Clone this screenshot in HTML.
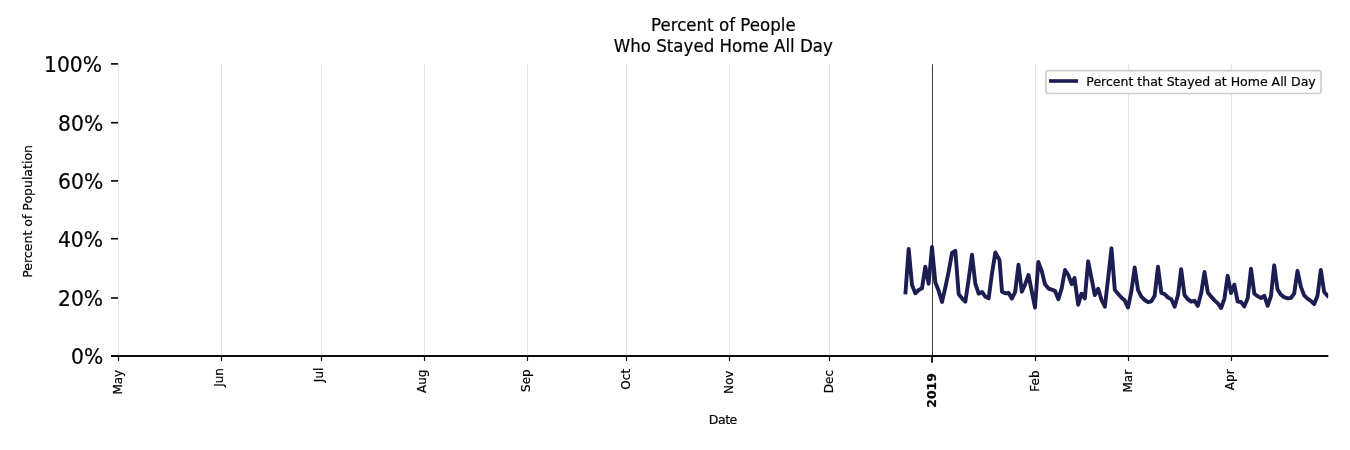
<!DOCTYPE html>
<html lang="en"><head><meta charset="utf-8"><title>Percent of People Who Stayed Home All Day</title>
<style>
html,body{margin:0;padding:0;background:#fff;}
body{width:1350px;height:450px;overflow:hidden;}
svg{display:block;font-family:"DejaVu Sans", "Liberation Sans", sans-serif;}
text{fill:#000;stroke:#000;stroke-width:0.2px;}
</style></head><body>
<svg width="1350" height="450" viewBox="0 0 1350 450">
<rect width="1350" height="450" fill="#fff"/>

<line x1="118.50" y1="64.2" x2="118.50" y2="356.0" stroke="#e3e3e3" stroke-width="1"/>
<line x1="221.50" y1="64.2" x2="221.50" y2="356.0" stroke="#e3e3e3" stroke-width="1"/>
<line x1="321.50" y1="64.2" x2="321.50" y2="356.0" stroke="#e3e3e3" stroke-width="1"/>
<line x1="424.50" y1="64.2" x2="424.50" y2="356.0" stroke="#e3e3e3" stroke-width="1"/>
<line x1="527.50" y1="64.2" x2="527.50" y2="356.0" stroke="#e3e3e3" stroke-width="1"/>
<line x1="626.50" y1="64.2" x2="626.50" y2="356.0" stroke="#e3e3e3" stroke-width="1"/>
<line x1="729.50" y1="64.2" x2="729.50" y2="356.0" stroke="#e3e3e3" stroke-width="1"/>
<line x1="829.50" y1="64.2" x2="829.50" y2="356.0" stroke="#e3e3e3" stroke-width="1"/>
<line x1="1035.50" y1="64.2" x2="1035.50" y2="356.0" stroke="#e3e3e3" stroke-width="1"/>
<line x1="1128.50" y1="64.2" x2="1128.50" y2="356.0" stroke="#e3e3e3" stroke-width="1"/>
<line x1="1231.50" y1="64.2" x2="1231.50" y2="356.0" stroke="#e3e3e3" stroke-width="1"/>
<line x1="932.50" y1="64.2" x2="932.50" y2="356.0" stroke="#3a3a3a" stroke-width="1"/>
<clipPath id="axclip"><rect x="118" y="64" width="1210.2" height="292"/></clipPath>
<path clip-path="url(#axclip)" d="M905.5 292.5 L908.67 248.83 L912.0 285.0 L915.33 293.33 L918.67 290.0 L922.0 288.33 L925.33 266.67 L928.67 283.67 L932.0 247.0 L935.33 282.5 L938.67 290.83 L942.0 302.0 L945.33 287.5 L948.67 271.67 L952.0 253.0 L955.33 250.83 L958.67 294.17 L962.0 298.33 L965.33 301.67 L968.67 279.17 L972.0 254.67 L975.33 283.67 L978.67 293.67 L982.0 292.0 L985.33 296.67 L988.67 298.33 L992.0 273.33 L995.33 252.5 L999.5 260.0 L1002.0 291.67 L1005.33 293.33 L1008.67 293.0 L1011.83 298.67 L1015.17 292.0 L1018.5 264.67 L1021.83 291.67 L1025.17 284.17 L1028.5 275.0 L1031.83 291.67 L1035.0 307.5 L1038.33 262.0 L1041.67 270.83 L1045.0 284.17 L1048.33 288.33 L1051.67 289.67 L1055.0 290.83 L1058.33 299.17 L1061.67 288.33 L1065.0 270.0 L1068.33 275.0 L1071.67 284.17 L1074.5 278.0 L1078.17 304.67 L1081.5 293.67 L1084.83 298.33 L1088.17 261.33 L1091.5 278.33 L1094.83 295.0 L1098.17 288.67 L1101.5 300.0 L1104.83 306.67 L1108.17 278.0 L1111.5 248.33 L1114.83 290.0 L1118.0 293.67 L1121.33 297.5 L1124.67 300.33 L1128.0 307.5 L1131.33 291.67 L1134.67 267.5 L1138.0 290.0 L1141.33 296.67 L1144.67 300.0 L1148.0 302.17 L1151.33 301.33 L1154.67 295.83 L1158.0 266.67 L1161.33 293.0 L1164.67 294.17 L1168.0 297.5 L1171.33 299.17 L1174.67 306.67 L1178.0 295.0 L1181.17 269.17 L1184.5 295.0 L1187.83 299.17 L1191.17 301.67 L1194.5 300.83 L1197.83 305.83 L1201.17 293.33 L1204.5 272.0 L1207.83 292.5 L1211.17 296.67 L1214.5 300.33 L1217.83 303.33 L1221.17 308.0 L1224.5 298.33 L1227.67 275.83 L1231.0 293.0 L1234.33 284.67 L1237.67 301.67 L1241.0 302.0 L1244.33 306.33 L1247.67 298.33 L1251.0 268.67 L1254.33 293.67 L1257.67 296.33 L1261.0 298.0 L1264.33 295.83 L1267.67 305.83 L1271.0 295.83 L1274.17 265.33 L1277.5 289.17 L1280.83 294.67 L1284.17 297.17 L1287.5 298.33 L1290.83 298.0 L1294.17 293.67 L1297.5 270.83 L1300.83 286.67 L1304.17 295.33 L1307.5 298.67 L1310.83 300.83 L1314.17 304.17 L1317.5 295.83 L1320.83 270.0 L1324.17 292.0 L1327.5 295.83" fill="none" stroke="#1c1d51" stroke-width="3.9" stroke-linejoin="round" stroke-linecap="square"/>
<line x1="111" y1="356.0" x2="1328.3" y2="356.0" stroke="#0c0c0c" stroke-width="2"/>
<line x1="118.50" y1="356.0" x2="118.50" y2="360.9" stroke="#000" stroke-width="1.2"/>
<text id="xt-May" transform="translate(121.80,369.77) rotate(-90)" text-anchor="end" font-size="12.0">May</text>
<line x1="221.50" y1="356.0" x2="221.50" y2="360.9" stroke="#000" stroke-width="1.2"/>
<text id="xt-Jun" transform="translate(223.10,368.05) rotate(-90)" text-anchor="end" font-size="12.0">Jun</text>
<line x1="321.50" y1="356.0" x2="321.50" y2="360.9" stroke="#000" stroke-width="1.2"/>
<text id="xt-Jul" transform="translate(323.00,367.67) rotate(-90)" text-anchor="end" font-size="12.0">Jul</text>
<line x1="424.50" y1="356.0" x2="424.50" y2="360.9" stroke="#000" stroke-width="1.2"/>
<text id="xt-Aug" transform="translate(425.70,369.62) rotate(-90)" text-anchor="end" font-size="12.0">Aug</text>
<line x1="527.50" y1="356.0" x2="527.50" y2="360.9" stroke="#000" stroke-width="1.2"/>
<text id="xt-Sep" transform="translate(530.20,369.28) rotate(-90)" text-anchor="end" font-size="12.0">Sep</text>
<line x1="626.50" y1="356.0" x2="626.50" y2="360.9" stroke="#000" stroke-width="1.2"/>
<text id="xt-Oct" transform="translate(630.20,368.90) rotate(-90)" text-anchor="end" font-size="12.0">Oct</text>
<line x1="729.50" y1="356.0" x2="729.50" y2="360.9" stroke="#000" stroke-width="1.2"/>
<text id="xt-Nov" transform="translate(733.20,370.60) rotate(-90)" text-anchor="end" font-size="12.0">Nov</text>
<line x1="829.50" y1="356.0" x2="829.50" y2="360.9" stroke="#000" stroke-width="1.2"/>
<text id="xt-Dec" transform="translate(832.80,369.98) rotate(-90)" text-anchor="end" font-size="12.0">Dec</text>
<line x1="932.05" y1="356.0" x2="932.05" y2="362.8" stroke="#000" stroke-width="1.7"/>
<text id="xt-2019" transform="translate(935.80,373.22) rotate(-90)" text-anchor="end" font-size="12.4" font-weight="bold">2019</text>
<line x1="1035.50" y1="356.0" x2="1035.50" y2="360.9" stroke="#000" stroke-width="1.2"/>
<text id="xt-Feb" transform="translate(1038.50,370.49) rotate(-90)" text-anchor="end" font-size="12.0">Feb</text>
<line x1="1128.50" y1="356.0" x2="1128.50" y2="360.9" stroke="#000" stroke-width="1.2"/>
<text id="xt-Mar" transform="translate(1131.60,369.90) rotate(-90)" text-anchor="end" font-size="12.0">Mar</text>
<line x1="1231.50" y1="356.0" x2="1231.50" y2="360.9" stroke="#000" stroke-width="1.2"/>
<text id="xt-Apr" transform="translate(1233.90,369.40) rotate(-90)" text-anchor="end" font-size="12.0">Apr</text>
<line x1="111" y1="356.00" x2="118" y2="356.00" stroke="#000" stroke-width="1.6"/>
<text transform="translate(103.2,363.90) scale(1,1.055)" text-anchor="end" font-size="20.3">0%</text>
<line x1="111" y1="298.00" x2="118" y2="298.00" stroke="#000" stroke-width="1.6"/>
<text transform="translate(103.1,305.54) scale(1,1.055)" text-anchor="end" font-size="20.3">20%</text>
<line x1="111" y1="238.70" x2="118" y2="238.70" stroke="#000" stroke-width="1.6"/>
<text transform="translate(103.0,247.18) scale(1,1.055)" text-anchor="end" font-size="20.3">40%</text>
<line x1="111" y1="180.90" x2="118" y2="180.90" stroke="#000" stroke-width="1.6"/>
<text transform="translate(103.2,188.72) scale(1,1.055)" text-anchor="end" font-size="20.3">60%</text>
<line x1="111" y1="122.70" x2="118" y2="122.70" stroke="#000" stroke-width="1.6"/>
<text transform="translate(103.2,131.06) scale(1,1.055)" text-anchor="end" font-size="20.3">80%</text>
<line x1="111" y1="63.90" x2="118" y2="63.90" stroke="#000" stroke-width="1.6"/>
<text transform="translate(102.0,72.10) scale(1,1.055)" text-anchor="end" font-size="20.3">100%</text>
<text transform="translate(32.1,211.4) rotate(-90)" text-anchor="middle" font-size="12.5">Percent of Population</text>
<text x="722.8" y="423.9" text-anchor="middle" letter-spacing="-0.5" font-size="12.5">Date</text>
<text transform="translate(723.3,31.0) scale(1,1.04)" text-anchor="middle" font-size="16.67">Percent of People</text>
<text transform="translate(723.3,52.0) scale(1,1.09)" text-anchor="middle" font-size="16.67">Who Stayed Home All Day</text>
<rect x="1045.9" y="70.7" width="275.2" height="22.8" rx="2.5" ry="2.5" fill="#fff" fill-opacity="0.8" stroke="#cdcdcd" stroke-width="1.7"/>
<line x1="1049" y1="81" x2="1078" y2="81" stroke="#1c1d51" stroke-width="3.6"/>
<text x="1086.3" y="85.6" font-size="12.5">Percent that Stayed at Home All Day</text>
</svg>
</body></html>
